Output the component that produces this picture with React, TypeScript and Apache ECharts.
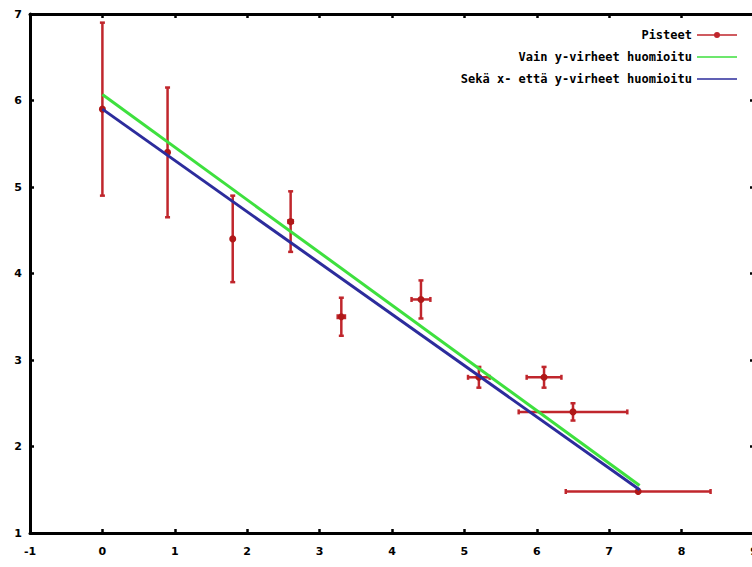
import React, { useEffect, useRef } from "react";
import * as echarts from "echarts";

// Measured points with their uncertainties
const xs = [0, 0.9, 1.8, 2.6, 3.3, 4.4, 5.2, 6.1, 6.5, 7.4];
const ys = [5.9, 5.4, 4.4, 4.6, 3.5, 3.7, 2.8, 2.8, 2.4, 1.48];
const xErr = [0, 0, 0, 0.03, 0.05, 0.13, 0.15, 0.24, 0.75, 1.0];
const yErr = [1.0, 0.75, 0.5, 0.35, 0.22, 0.22, 0.12, 0.12, 0.1, 0.0];

// Fitted lines (endpoints)
const fitX = [0, 7.42];
const greenY = [6.07, 1.55];
const blueY = [5.9, 1.5];

const seriesNames = [
  "Pisteet",
  "Vain y-virheet huomioitu",
  "Sekä x- että y-virheet huomioitu",
];

const FONT = "DejaVu Sans";
const RED = "#c0262c";
const RED_DARK = "#b01818";

export default function App() {
  const ref = useRef<HTMLDivElement>(null);

  useEffect(() => {
    if (!ref.current) return;
    const chart = echarts.init(ref.current, null, { renderer: "svg" });

    const pointData = xs.map((x, i) => [x, ys[i], xErr[i], yErr[i]]);

    const axisLine = { show: true, onZero: false, lineStyle: { color: "#000", width: 3 } };
    const axisTick = {
      show: true,
      inside: true,
      length: 4,
      lineStyle: { color: "#000", width: 2.5 },
    };
    const labelStyle = {
      color: "#000",
      fontFamily: FONT,
      fontWeight: "bold" as const,
      fontSize: 11,
    };
    const lineIcon =
      "path://M0,0h0.01v0.01h-0.01z M0,2.2h40v1.6h-40z M0,6h0.01v-0.01h-0.01z";

    chart.setOption({
      animation: false,
      backgroundColor: "#fff",
      grid: {
        left: 30,
        top: 14,
        width: 724,
        height: 519,
        containLabel: false,
        outerBoundsMode: "none",
      },
      legend: {
        orient: "vertical",
        right: 10,
        top: 24,
        align: "right",
        itemWidth: 40,
        itemHeight: 6,
        itemGap: 10,
        textStyle: {
          color: "#000",
          fontFamily: "DejaVu Sans Mono",
          fontWeight: "bold",
          fontSize: 12,
        },
        data: [
          {
            name: seriesNames[0],
            icon: "path://M0,2.2h40v1.6h-40z M23,3a3,3 0 1 1 -6,0a3,3 0 1 1 6,0z",
          },
          { name: seriesNames[1], icon: lineIcon },
          { name: seriesNames[2], icon: lineIcon },
        ],
      },
      xAxis: [
        {
          type: "value",
          min: -1,
          max: 9,
          interval: 1,
          position: "bottom",
          axisLine,
          axisTick,
          splitLine: { show: false },
          axisLabel: { ...labelStyle, margin: 13 },
        },
        {
          type: "value",
          min: -1,
          max: 9,
          interval: 1,
          position: "top",
          axisLine,
          axisTick,
          splitLine: { show: false },
          axisLabel: { show: false },
        },
      ],
      yAxis: [
        {
          type: "value",
          min: 1,
          max: 7,
          interval: 1,
          position: "left",
          axisLine,
          axisTick,
          splitLine: { show: false },
          axisLabel: { ...labelStyle, margin: 8 },
        },
        {
          type: "value",
          min: 1,
          max: 7,
          interval: 1,
          position: "right",
          axisLine,
          axisTick,
          splitLine: { show: false },
          axisLabel: { show: false },
        },
      ],
      series: [
        {
          name: seriesNames[0],
          type: "custom",
          xAxisIndex: 0,
          yAxisIndex: 0,
          color: RED,
          itemStyle: { color: RED },
          encode: { x: 0, y: 1 },
          data: pointData,
          z: 2,
          renderItem: (params: any, api: any) => {
            const x = api.value(0);
            const y = api.value(1);
            const ex = api.value(2);
            const ey = api.value(3);
            const c = api.coord([x, y]);
            const children: any[] = [];
            const barStyle = { stroke: RED, lineWidth: 2.5 };
            if (ey > 0) {
              const t = api.coord([x, y + ey]);
              const b = api.coord([x, y - ey]);
              children.push({
                type: "line",
                shape: { x1: t[0], y1: t[1], x2: b[0], y2: b[1] },
                style: barStyle,
              });
              children.push({
                type: "line",
                shape: { x1: t[0] - 2.5, y1: t[1], x2: t[0] + 2.5, y2: t[1] },
                style: barStyle,
              });
              children.push({
                type: "line",
                shape: { x1: b[0] - 2.5, y1: b[1], x2: b[0] + 2.5, y2: b[1] },
                style: barStyle,
              });
            }
            if (ex > 0) {
              const l = api.coord([x - ex, y]);
              const r = api.coord([x + ex, y]);
              children.push({
                type: "line",
                shape: { x1: l[0], y1: l[1], x2: r[0], y2: r[1] },
                style: barStyle,
              });
              children.push({
                type: "line",
                shape: { x1: l[0], y1: l[1] - 2.5, x2: l[0], y2: l[1] + 2.5 },
                style: barStyle,
              });
              children.push({
                type: "line",
                shape: { x1: r[0], y1: r[1] - 2.5, x2: r[0], y2: r[1] + 2.5 },
                style: barStyle,
              });
            }
            children.push({
              type: "circle",
              shape: { cx: c[0], cy: c[1], r: 3.5 },
              style: { fill: RED_DARK },
            });
            return { type: "group", children };
          },
        },
        {
          name: seriesNames[1],
          type: "line",
          xAxisIndex: 0,
          yAxisIndex: 0,
          symbol: "none",
          color: "#3ee03e",
          lineStyle: { color: "#3ee03e", width: 3 },
          data: fitX.map((x, i) => [x, greenY[i]]),
          z: 3,
        },
        {
          name: seriesNames[2],
          type: "line",
          xAxisIndex: 0,
          yAxisIndex: 0,
          symbol: "none",
          color: "#2c2c9c",
          lineStyle: { color: "#2c2c9c", width: 3 },
          data: fitX.map((x, i) => [x, blueY[i]]),
          z: 4,
        },
      ],
    });

    return () => chart.dispose();
  }, []);

  return (
    <div
      ref={ref}
      style={{
        position: "fixed",
        left: 0,
        top: 0,
        width: 752,
        height: 567,
        background: "#fff",
      }}
    />
  );
}
